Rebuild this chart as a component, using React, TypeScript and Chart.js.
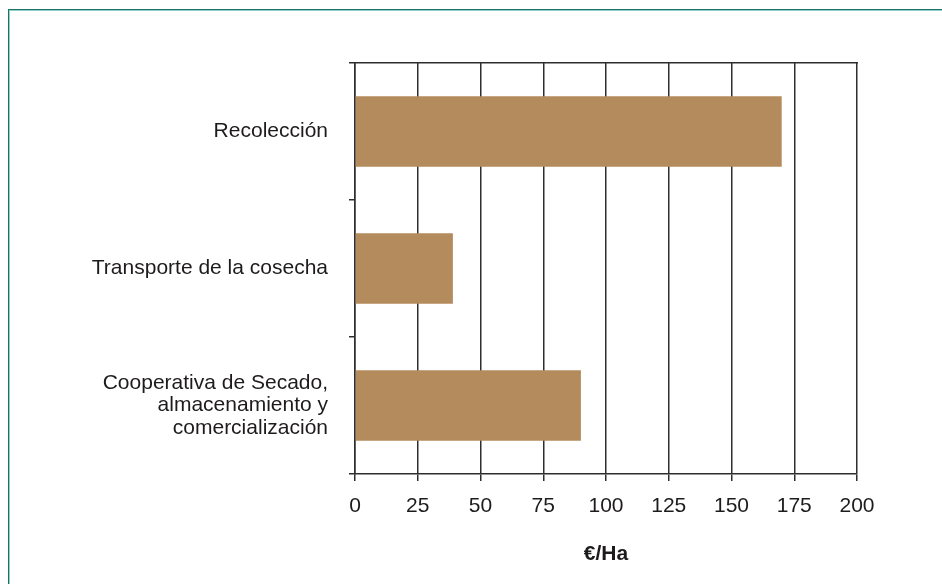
import React, { useEffect, useRef } from "react";
import { Chart, registerables } from "chart.js";

Chart.register(...registerables);

const categories: (string | string[])[] = [
  "Recolección",
  "Transporte de la cosecha",
  ["Cooperativa de Secado,", "almacenamiento y", "comercialización"],
];
const values: number[] = [170, 39, 90];
const xTicks: number[] = [0, 25, 50, 75, 100, 125, 150, 175, 200];
const axisTitle = "€/Ha";

const BAR_COLOR = "#b38b5d";
const LINE_COLOR = "#2e2e2e";
const TEXT_COLOR = "#1e1b1c";
const FONT_FAMILY = "'Liberation Sans', Arial, Helvetica, sans-serif";

export default function App() {
  const ref = useRef<HTMLCanvasElement | null>(null);

  useEffect(() => {
    if (!ref.current) return;
    const chart = new Chart(ref.current, {
      type: "bar",
      data: {
        labels: categories,
        datasets: [
          {
            data: values,
            backgroundColor: BAR_COLOR,
            borderWidth: 0,
            barPercentage: 0.516,
            categoryPercentage: 1,
          },
        ],
      },
      options: {
        indexAxis: "y",
        animation: false,
        responsive: true,
        maintainAspectRatio: false,
        layout: { padding: { left: 0, right: 85, top: 63, bottom: 0 } },
        plugins: {
          legend: { display: false },
          tooltip: { enabled: false },
        },
        scales: {
          x: {
            type: "linear",
            position: "bottom",
            min: 0,
            max: 200,
            afterBuildTicks: (scale: any) => {
              scale.ticks = xTicks.map((v) => ({ value: v }));
            },
            afterFit: (scale: any) => {
              scale.height = 110;
            },
            grid: {
              color: LINE_COLOR,
              lineWidth: 1.5,
              tickLength: 7,
              drawTicks: true,
            },
            border: { display: true, color: LINE_COLOR, width: 1.5 },
            ticks: {
              color: TEXT_COLOR,
              font: { family: FONT_FAMILY, size: 21 },
              padding: 13,
              maxRotation: 0,
              autoSkip: false,
            },
            title: {
              display: true,
              text: axisTitle,
              color: TEXT_COLOR,
              font: { family: FONT_FAMILY, size: 21, weight: "bold" },
              padding: { top: 0, bottom: 17 },
            },
          },
          x2: {
            type: "linear",
            position: "top",
            min: 0,
            max: 200,
            grid: { display: false, drawTicks: false },
            ticks: { display: false },
            border: { display: true, color: LINE_COLOR, width: 1.5 },
            afterFit: (scale: any) => {
              scale.height = 0;
            },
          },
          y: {
            type: "category",
            position: "left",
            offset: true,
            afterFit: (scale: any) => {
              scale.width = 355;
            },
            grid: {
              offset: true,
              drawOnChartArea: false,
              color: LINE_COLOR,
              lineWidth: 1.5,
              tickLength: 6,
            },
            border: { display: true, color: LINE_COLOR, width: 1.5 },
            ticks: {
              color: TEXT_COLOR,
              font: { family: FONT_FAMILY, size: 21, lineHeight: 1.07 },
              padding: 21,
              autoSkip: false,
            },
          },
        },
      } as any,
    });
    return () => chart.destroy();
  }, []);

  return (
    <div
      style={{
        position: "fixed",
        left: 0,
        top: 0,
        width: 942,
        height: 584,
        overflow: "hidden",
        background: "#ffffff",
      }}
    >
      <div
        style={{
          position: "absolute",
          left: 8,
          top: 9,
          width: 1000,
          height: 1000,
          borderLeft: "1px solid #1f7268",
          borderTop: "1px solid #1f7268",
          boxShadow: "inset 1px 1px 0 #8fd0c8",
        }}
      />
      <div style={{ position: "absolute", left: 0, top: 0, width: 942, height: 584 }}>
        <canvas ref={ref} />
      </div>
    </div>
  );
}
